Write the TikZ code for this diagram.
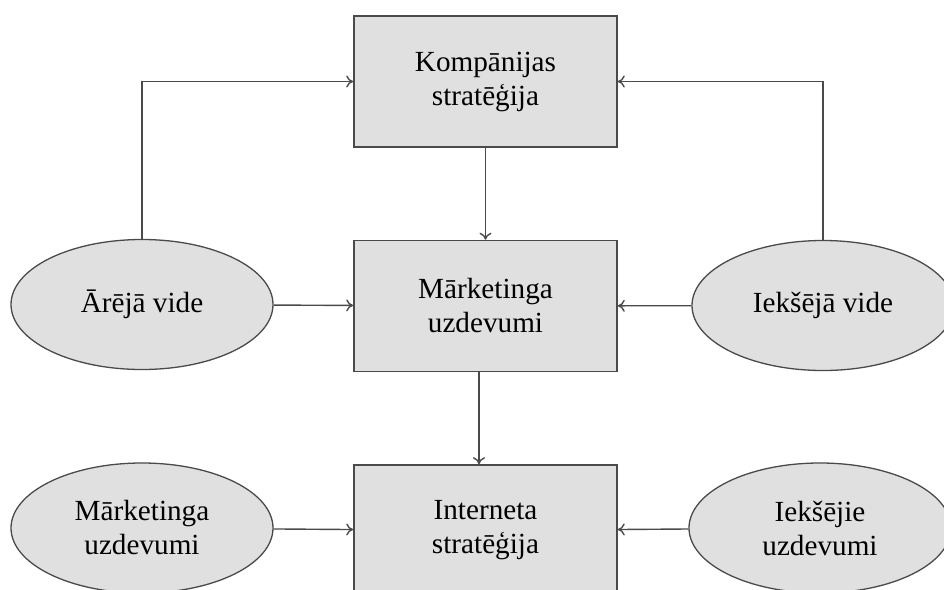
\documentclass[tikz,border=0pt]{standalone}
\usepackage{fontspec}
\setmainfont{Liberation Serif}
\usepackage{tikz}
\usetikzlibrary{shapes,arrows,arrows.meta,positioning,calc}
\usepackage{xcolor}
\definecolor{boxgray}{HTML}{E0E0E0}
\definecolor{linegray}{HTML}{4A4A4A}

\begin{document}
\begin{tikzpicture}[
  x=0.5pt, y=-0.5pt,
  box/.style={draw=linegray, line width=0.8pt, fill=boxgray, minimum width=131.5pt, minimum height=65.5pt, align=center, inner sep=0pt, font=\fontsize{14.6}{17}\selectfont},
  oval/.style={ellipse, draw=linegray, line width=0.65pt, fill=boxgray, minimum width=131pt, minimum height=65pt, align=center, inner sep=0pt, font=\fontsize{14.6}{17}\selectfont},
  flow/.style={-{To[length=3.5pt,width=6pt]}, line width=0.7pt, color=linegray}
]
  \clip (0,0) rectangle (944,590);
  \useasboundingbox (0,0) rectangle (944,590);

  \node[box] (strategy) at (485.5,81.5) {Kompānijas\\stratēģija};
  \node[box] (tasks) at (485.5,306) {Mārketinga\\uzdevumi};
  \node[box] (internet) at (485.5,530.5) {Interneta\\stratēģija};

  \node[oval] (outer) at (142,304.5) {Ārējā vide};
  \node[oval] (inner) at (823,305.5) {Iekšējā vide};
  \node[oval] (mtasks) at (142,528) {Mārketinga\\uzdevumi};
  \node[oval] (itasks) at (820,528) {Iekšējie\\uzdevumi};

  \draw[flow] (outer.north) |- (strategy.west);
  \draw[flow] (inner.north) |- (strategy.east);
  \draw[flow] (strategy) -- (tasks);
  \draw[flow] ([xshift=-3.25pt]tasks.south) -- ([xshift=-3.25pt]internet.north);
  \draw[flow] (outer) -- (tasks);
  \draw[flow] (inner) -- (tasks);
  \draw[flow] (mtasks) -- (internet);
  \draw[flow] (itasks) -- (internet);
\end{tikzpicture}
\end{document}
